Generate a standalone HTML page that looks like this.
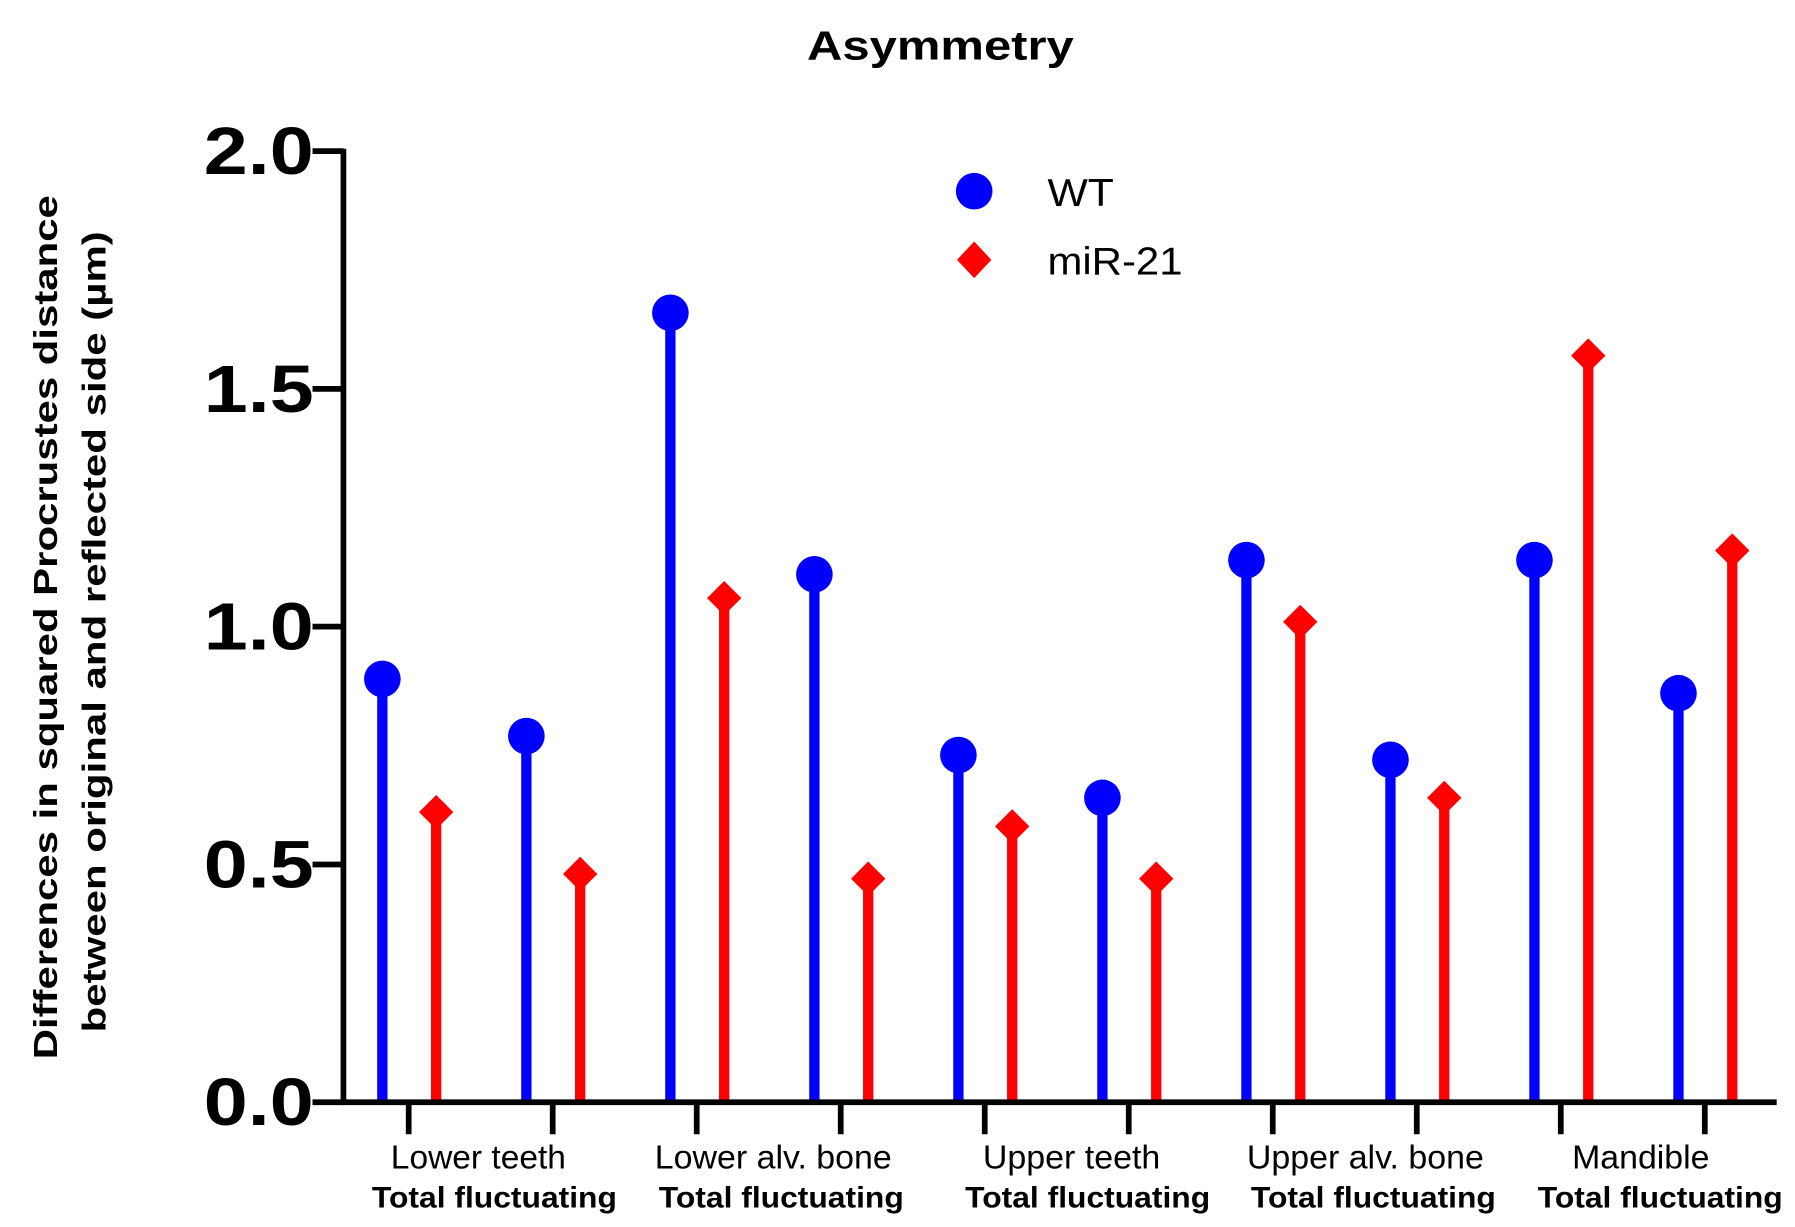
<!DOCTYPE html>
<html><head><meta charset="utf-8"><style>html,body{margin:0;padding:0;background:#fff}svg{display:block}text{font-family:"Liberation Sans",Arial,sans-serif}</style></head>
<body>
<svg id="chart" width="1795" height="1227" viewBox="0 0 1568 1072" preserveAspectRatio="none">
<text x="705" y="52" font-size="36" font-weight="bold" textLength="233" lengthAdjust="spacingAndGlyphs">Asymmetry</text>
<g font-size="29" font-weight="bold" text-anchor="middle">
<text transform="translate(50,548) rotate(-90)" textLength="755" lengthAdjust="spacingAndGlyphs">Differences in squared Procrustes distance</text>
<text transform="translate(92,552) rotate(-90)" textLength="700" lengthAdjust="spacingAndGlyphs">between original and reflected side (µm)</text>
</g>
<g id="marks"></g>
<g id="axes"></g>
<g>
<circle cx="851" cy="167" r="16" fill="#0000ff"/>
<text x="915" y="180" font-size="34" textLength="58" lengthAdjust="spacingAndGlyphs">WT</text>
<polygon points="851,211 866,227 851,243 836,227" fill="#ff0000"/>
<text x="915" y="240" font-size="34" textLength="118" lengthAdjust="spacingAndGlyphs">miR-21</text>
</g>
</svg>
<script>
const groups = ["Lower teeth","Lower alv. bone","Upper teeth","Upper alv. bone","Mandible"];
const wtValues = [0.89,0.77,1.66,1.11,0.73,0.64,1.14,0.72,1.14,0.86];
const mirValues = [0.61,0.48,1.06,0.47,0.58,0.47,1.01,0.64,1.57,1.16];
const yTicks = [0,0.5,1,1.5,2];
const yTickLabels = ["0.0","0.5","1.0","1.5","2.0"];
const NS="http://www.w3.org/2000/svg";
const y0=963, yPer=415.5, xLeft=300, xRight=1552;
const groupWidths = [153,207,155,207,120];
const groupShift = [-2,4,13,18,7];
const subShift = [12,11,27,25,24];
const yScale=v=>y0-v*yPer;
const xSlot=i=>357+i*125.8;
function mk(tag,attrs,parent){const e=document.createElementNS(NS,tag);for(const k in attrs)e.setAttribute(k,attrs[k]);parent.appendChild(e);return e;}
const marks=document.getElementById('marks'), axes=document.getElementById('axes');
wtValues.forEach((v,i)=>{
  const x=xSlot(i)-23;
  const s=mk('line',{x1:x,x2:x,y1:y0,y2:yScale(v),stroke:'#0000ff','stroke-width':9},marks);
  
  
  const c=mk('circle',{cx:x,cy:yScale(v),r:16,fill:'#0000ff'},marks);
  
  
});
mirValues.forEach((v,i)=>{
  const x=xSlot(i)+24, y=yScale(v);
  const s=mk('line',{x1:x,x2:x,y1:y0,y2:y,stroke:'#ff0000','stroke-width':9},marks);
  
  
  const d=mk('polygon',{points:`${x},${y-15} ${x+15},${y} ${x},${y+15} ${x-15},${y}`,fill:'#ff0000'},marks);
  
  
});
const ya=mk('line',{x1:xLeft,x2:xLeft,y1:yScale(2)-2,y2:y0+2,stroke:'#000','stroke-width':5},axes);


const xa=mk('line',{x1:xLeft-2,x2:xRight,y1:y0,y2:y0,stroke:'#000','stroke-width':5},axes);


yTicks.forEach((t,i)=>{
  const y=yScale(t);
  const tk=mk('line',{x1:273,x2:xLeft,y1:y,y2:y,stroke:'#000','stroke-width':5},axes);
  
  
  const lb=mk('text',{x:178,y:y+20,'font-size':58,'font-weight':'bold',textLength:96,lengthAdjust:'spacingAndGlyphs'},axes);
  lb.textContent=yTickLabels[i];
  
  
});
wtValues.forEach((v,i)=>{
  const x=xSlot(i);
  const tk=mk('line',{x1:x,x2:x,y1:y0,y2:y0+28,stroke:'#000','stroke-width':5},axes);
  
  
});
groups.forEach((g,i)=>{
  const cx=(xSlot(2*i)+xSlot(2*i+1))/2;
  const a=mk('text',{x:cx+groupShift[i]-groupWidths[i]/2,y:1021,'font-size':29,textLength:groupWidths[i],lengthAdjust:'spacingAndGlyphs'},axes);
  a.textContent=g;
  
  
  const b=mk('text',{x:cx+subShift[i]-107,y:1055,'font-size':26,'font-weight':'bold',textLength:214,lengthAdjust:'spacingAndGlyphs'},axes);
  b.textContent="Total fluctuating";
  
  
});
</script>
</body></html>
